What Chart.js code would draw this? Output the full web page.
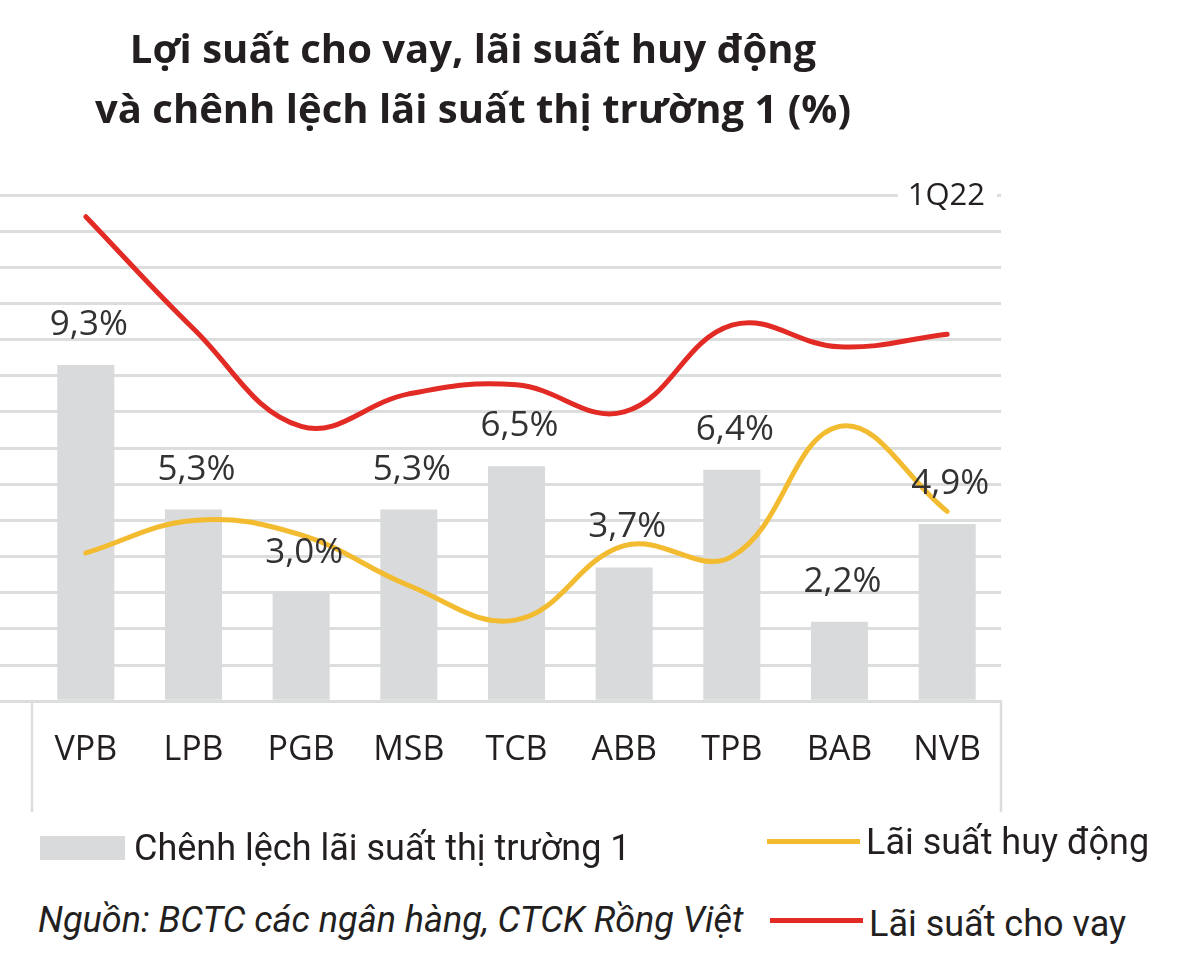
<!DOCTYPE html>
<html>
<head>
<meta charset="utf-8">
<script src="https://cdn.jsdelivr.net/npm/chart.js@4.4.1/dist/chart.umd.min.js"></script>
<style>
  html, body { margin: 0; padding: 0; background: #fff; }
  body { width: 1181px; height: 974px; position: relative; overflow: hidden; font-family: "Open Sans", sans-serif; color: #231f20; }
  #title { position: absolute; left: 0; top: 18px; width: 946px; text-align: center; font-weight: 700; font-size: 40px; line-height: 60px; }
  #title div { white-space: nowrap; }
  #wrap { position: absolute; left: 0; top: 0; width: 1181px; height: 830px; }
  .lg { position: absolute; font-family: "Roboto", sans-serif; font-size: 36px; color: #231f20; white-space: nowrap; line-height: 44px; }
  .sw { position: absolute; }
</style>
</head>
<body>
<div id="wrap"><canvas id="c"></canvas></div>
<div id="title"><div>Lợi suất cho vay, lãi suất huy động</div><div>và chênh lệch lãi suất thị trường 1 (%)</div></div>

<div class="sw" style="left:40px;top:836px;width:85px;height:24px;background:#d9dadb;"></div>
<div class="lg" style="left:134px;top:826px;">Chênh lệch lãi suất thị trường 1</div>
<div class="sw" style="left:767px;top:839px;width:93px;height:5px;background:#f2bb30;"></div>
<div class="lg" style="left:866px;top:820px;">Lãi suất huy động</div>
<div class="lg" style="left:38px;top:898px;font-style:italic;">Nguồn: BCTC các ngân hàng, CTCK Rồng Việt</div>
<div class="sw" style="left:770px;top:918px;width:93px;height:5px;background:#e32b26;"></div>
<div class="lg" style="left:869px;top:902px;">Lãi suất cho vay</div>

<script>
// ---- data ----
const categories = ['VPB', 'LPB', 'PGB', 'MSB', 'TCB', 'ABB', 'TPB', 'BAB', 'NVB'];
const spread = [9.3, 5.3, 3.0, 5.3, 6.5, 3.7, 6.4, 2.2, 4.9];            // Chênh lệch lãi suất thị trường 1
const depositRate = [4.1, 5.0, 4.6, 3.2, 2.25, 4.3, 4.0, 7.6, 5.25];     // Lãi suất huy động
const lendingRate = [13.4, 10.3, 7.6, 8.5, 8.75, 8.0, 10.4, 9.8, 10.15]; // Lãi suất cho vay
const spreadLabels = ['9,3%', '5,3%', '3,0%', '5,3%', '6,5%', '3,7%', '6,4%', '2,2%', '4,9%'];
const periodLabel = '1Q22';
const yMin = 0, yMax = 14, yStep = 1;

const gridColor = '#dcdddd';
const barColor = '#d9dadb';
const depositColor = '#f2bb30';
const lendingColor = '#e32b26';

Chart.defaults.font.family = '"Open Sans", sans-serif';

const extras = {
  id: 'extras',
  beforeDatasetsDraw(chart) {
    const { ctx, scales: { x, y } } = chart;
    const yTop = y.getPixelForValue(yMax);
    ctx.save();
    ctx.font = '31px "Open Sans"';
    ctx.textAlign = 'right';
    ctx.textBaseline = 'middle';
    const w = ctx.measureText(periodLabel).width;
    ctx.fillStyle = '#fff';
    ctx.fillRect(x.right - 16 - w - 10, yTop - 4, w + 22, 8);
    ctx.fillStyle = '#231f20';
    ctx.fillText(periodLabel, x.right - 16, yTop + 1);
    ctx.strokeStyle = gridColor;
    ctx.lineWidth = 2.5;
    [x.left, x.right].forEach(px => {
      ctx.beginPath();
      ctx.moveTo(px, x.top);
      ctx.lineTo(px, x.top + 111);
      ctx.stroke();
    });
    ctx.restore();
  },
  afterDatasetsDraw(chart) {
    const { ctx } = chart;
    const meta = chart.getDatasetMeta(0);
    ctx.save();
    ctx.font = '35px "Open Sans"';
    ctx.fillStyle = '#333132';
    ctx.textAlign = 'center';
    ctx.textBaseline = 'middle';
    meta.data.forEach((el, i) => {
      ctx.fillText(spreadLabels[i], el.x + 3, el.y - 40);
    });
    ctx.restore();
  }
};

new Chart(document.getElementById('c'), {
  type: 'bar',
  data: {
    labels: categories,
    datasets: [
      { type: 'bar', label: 'Chênh lệch lãi suất thị trường 1', data: spread, backgroundColor: barColor,
        categoryPercentage: 1, barPercentage: 0.53, order: 3 },
      { type: 'line', label: 'Lãi suất huy động', data: depositRate, borderColor: depositColor, borderWidth: 5,
        pointRadius: 0, tension: 0.4, fill: false, order: 2, borderCapStyle: 'round' },
      { type: 'line', label: 'Lãi suất cho vay', data: lendingRate, borderColor: lendingColor, borderWidth: 5,
        pointRadius: 0, tension: 0.4, fill: false, order: 1, borderCapStyle: 'round' }
    ]
  },
  options: {
    responsive: true,
    maintainAspectRatio: false,
    animation: false,
    layout: { padding: { left: 0, right: 180, top: 195, bottom: 30 } },
    plugins: { legend: { display: false }, tooltip: { enabled: false }, title: { display: false } },
    scales: {
      x: {
        grid: { display: false, drawTicks: false },
        border: { display: true, color: gridColor, width: 3 },
        ticks: { font: { size: 34 }, color: '#231f20', padding: 29 }
      },
      y: {
        min: yMin, max: yMax,
        ticks: { display: false, stepSize: yStep },
        border: { display: false },
        grid: { color: gridColor, lineWidth: 3, drawTicks: true, tickLength: 32 }
      }
    }
  },
  plugins: [extras]
});
</script>
</body>
</html>
